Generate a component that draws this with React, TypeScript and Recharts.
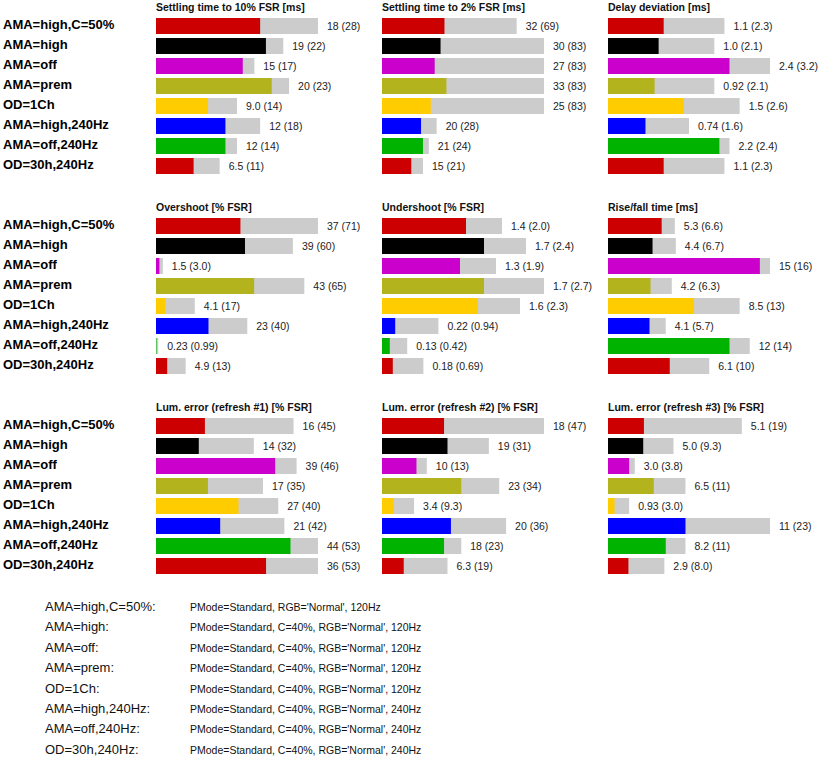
import { BarChart, Bar, XAxis, YAxis, Cell, LabelList } from 'recharts';

const FONT = '"Liberation Sans", Arial, sans-serif';

const rowNames = [
  'AMA=high,C=50%',
  'AMA=high',
  'AMA=off',
  'AMA=prem',
  'OD=1Ch',
  'AMA=high,240Hz',
  'AMA=off,240Hz',
  'OD=30h,240Hz',
];

const rowColors = ['#cc0000', '#000000', '#cc00cc', '#b3b31e', '#ffcc00', '#0000ff', '#00b300', '#cc0000'];

const legendText = [
  "PMode=Standard, RGB='Normal', 120Hz",
  "PMode=Standard, C=40%, RGB='Normal', 120Hz",
  "PMode=Standard, C=40%, RGB='Normal', 120Hz",
  "PMode=Standard, C=40%, RGB='Normal', 120Hz",
  "PMode=Standard, C=40%, RGB='Normal', 120Hz",
  "PMode=Standard, C=40%, RGB='Normal', 240Hz",
  "PMode=Standard, C=40%, RGB='Normal', 240Hz",
  "PMode=Standard, C=40%, RGB='Normal', 240Hz",
];

const titles = [
  'Settling time to 10% FSR [ms]',
  'Settling time to 2% FSR [ms]',
  'Delay deviation [ms]',
  'Overshoot [% FSR]',
  'Undershoot [% FSR]',
  'Rise/fall time [ms]',
  'Lum. error (refresh #1) [% FSR]',
  'Lum. error (refresh #2) [% FSR]',
  'Lum. error (refresh #3) [% FSR]',
];

// mean values (coloured bars)
const settle10Mean = [18, 19, 15, 20, 9.0, 12, 12, 6.5];
const settle2Mean = [32, 30, 27, 33, 25, 20, 21, 15];
const delayMean = [1.1, 1.0, 2.4, 0.92, 1.5, 0.74, 2.2, 1.1];
const overshootMean = [37, 39, 1.5, 43, 4.1, 23, 0.23, 4.9];
const undershootMean = [1.4, 1.7, 1.3, 1.7, 1.6, 0.22, 0.13, 0.18];
const riseMean = [5.3, 4.4, 15, 4.2, 8.5, 4.1, 12, 6.1];
const lum1Mean = [16, 14, 39, 17, 27, 21, 44, 36];
const lum2Mean = [18, 19, 10, 23, 3.4, 20, 18, 6.3];
const lum3Mean = [5.1, 5.0, 3.0, 6.5, 0.93, 11, 8.2, 2.9];

// max values (grey bars)
const settle10Max = [28, 22, 17, 23, 14, 18, 14, 11];
const settle2Max = [69, 83, 83, 83, 83, 28, 24, 21];
const delayMax = [2.3, 2.1, 3.2, 2.1, 2.6, 1.6, 2.4, 2.3];
const overshootMax = [71, 60, 3.0, 65, 17, 40, 0.99, 13];
const undershootMax = [2.0, 2.4, 1.9, 2.7, 2.3, 0.94, 0.42, 0.69];
const riseMax = [6.6, 6.7, 16, 6.3, 13, 5.7, 14, 10];
const lum1Max = [45, 32, 46, 35, 40, 42, 53, 53];
const lum2Max = [47, 31, 13, 34, 9.3, 36, 23, 19];
const lum3Max = [19, 9.3, 3.8, 11, 3.0, 23, 11, 8.0];

const means = [settle10Mean, settle2Mean, delayMean, overshootMean, undershootMean, riseMean, lum1Mean, lum2Mean, lum3Mean];
const maxes = [settle10Max, settle2Max, delayMax, overshootMax, undershootMax, riseMax, lum1Max, lum2Max, lum3Max];

const fmt = (v: number) => v.toPrecision(2);

function Panel({ title, mean, max, left, top }: { title: string; mean: number[]; max: number[]; left: number; top: number }) {
  const data = rowNames.map((name, i) => ({
    name,
    mean: mean[i],
    max: max[i],
    label: `${fmt(mean[i])} (${fmt(max[i])})`,
  }));
  const top0 = Math.max(...max);

  return (
    <div style={{ position: 'absolute', left, top }}>
      <div style={{ position: 'absolute', left: 0, top: 1, fontSize: 10.5, lineHeight: '12px', fontWeight: 'bold', whiteSpace: 'nowrap', color: '#111' }}>
        {title}
      </div>
      <BarChart width={232} height={176} data={data} layout="vertical" margin={{ top: 16, right: 70, bottom: 0, left: 0 }}>
        <XAxis type="number" domain={[0, top0]} hide />
        <YAxis yAxisId="grey" type="category" dataKey="name" hide />
        <YAxis yAxisId="col" type="category" dataKey="name" hide />
        <Bar yAxisId="grey" dataKey="max" fill="#cccccc" barSize={16} isAnimationActive={false}>
          <LabelList dataKey="label" position="right" offset={9} fill="#222" fontSize={10.5} fontFamily={FONT} />
        </Bar>
        <Bar yAxisId="col" dataKey="mean" barSize={16} isAnimationActive={false}>
          {data.map((d, i) => (
            <Cell key={d.name} fill={rowColors[i]} />
          ))}
        </Bar>
      </BarChart>
    </div>
  );
}

export default function App() {
  return (
    <div style={{ position: 'absolute', left: 0, top: 0, width: 820, height: 759, overflow: 'hidden', background: '#fff', fontFamily: FONT }}>
      {[0, 1, 2].map((r) =>
        rowNames.map((name, i) => (
          <div
            key={`${r}-${name}`}
            style={{ position: 'absolute', left: 3, top: 15 + 20 * i + 200 * r, fontSize: 13, lineHeight: '20px', fontWeight: 'bold', whiteSpace: 'nowrap', color: '#000' }}
          >
            {name}
          </div>
        ))
      )}
      {titles.map((t, k) => (
        <Panel key={t} title={t} mean={means[k]} max={maxes[k]} left={156 + 226 * (k % 3)} top={200 * Math.floor(k / 3)} />
      ))}
      {rowNames.map((name, i) => (
        <div key={`leg-${name}`} style={{ position: 'absolute', left: 0, top: 597 + 20.4 * i, width: 820, lineHeight: '20px', whiteSpace: 'nowrap' }}>
          <span style={{ position: 'absolute', left: 45, fontSize: 13, color: '#111' }}>{name}:</span>
          <span style={{ position: 'absolute', left: 190, fontSize: 10.5, color: '#111' }}>{legendText[i]}</span>
        </div>
      ))}
    </div>
  );
}
